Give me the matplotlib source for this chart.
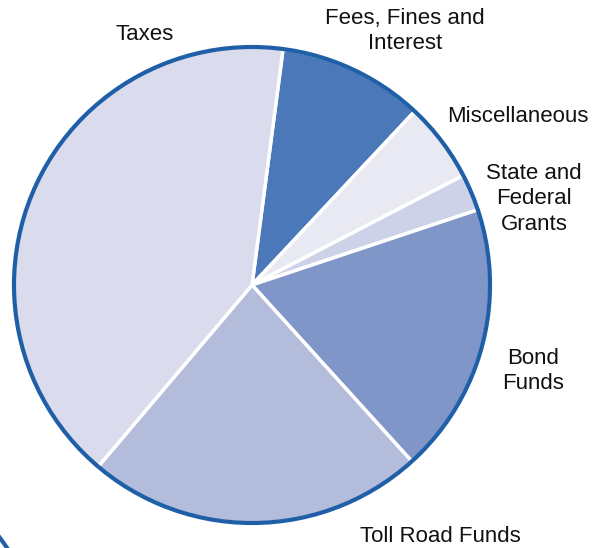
import numpy as np
import matplotlib.pyplot as plt
from matplotlib.patches import Circle

plt.rcParams['font.family'] = ['Liberation Sans', 'DejaVu Sans']

# revenue sources, clockwise from the top
labels = ["Fees, Fines and\nInterest", "Miscellaneous", "State and\nFederal\nGrants",
          "Bond\nFunds", "Toll Road Funds", "Taxes"]
shares = [9.9, 5.4, 2.5, 18.4, 22.9, 40.9]
colors = ["#4a78b8", "#e8e9f3", "#cdd2e8", "#8096c8", "#b4bcdc", "#dadcee"]

# label spots (pixels, y from top)
label_xy = [(405, 31), (518, 116), (534, 199), (533, 371), (440, 536), (145, 35)]

W, H = 603, 548
fig = plt.figure(figsize=(W / 100, H / 100), dpi=100)
ax = fig.add_axes([0, 0, 1, 1])

cx, cy, r = 252, H - 285, 238
ax.pie(shares, colors=colors, startangle=82.5, counterclock=False,
       center=(cx, cy), radius=r, frame=True,
       wedgeprops=dict(edgecolor='white', linewidth=2.5))
ax.set_xlim(0, W)
ax.set_ylim(0, H)
ax.set_aspect('equal')
ax.axis('off')
ax.add_patch(Circle((cx, cy), r, fill=False, edgecolor='#1f5fa8', linewidth=3, zorder=5))

# bit of another ring peeking in at bottom-left
t = np.linspace(np.radians(32), np.radians(37.5), 30)
ax.plot(-200 + 250 * np.cos(t), -140 + 250 * np.sin(t), color='#1f5fa8', lw=3)

for lab, (x, y) in zip(labels, label_xy):
    ax.text(x, H - y, lab, ha='center', va='center', fontsize=16,
            color='#111111', linespacing=1.3)

fig.savefig("out.png", dpi=100)
